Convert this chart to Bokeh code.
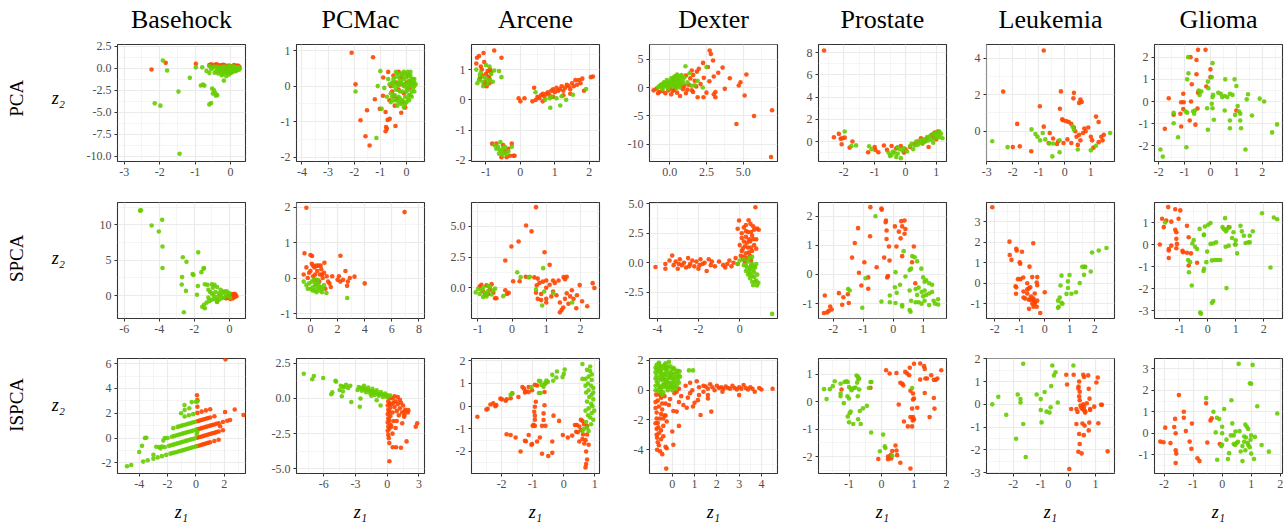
import math
from bokeh.plotting import figure
from bokeh.models import Range1d, FixedTicker, Label, ColumnDataSource
from bokeh.layouts import row, column
from bokeh.embed import file_html
from bokeh.resources import INLINE

DATASETS = ["Basehock", "PCMac", "Arcene", "Dexter", "Prostate", "Leukemia", "Glioma"]
METHODS = ["PCA", "SPCA", "ISPCA"]
RED = "#FF4500"
GREEN = "#66CD00"

# ---------------- PCA row ----------------
PCA_BASEHOCK_R = [(-2.23,-0.15),(-1.83,0.61),(-0.98,0.5),(-0.55,0.45),(-0.45,0.4),(-0.35,0.35),(-0.25,0.35),(-0.15,0.3),(-0.05,0.3),(0.05,0.25),(0.15,0.25),(0.22,0.15),(0.25,0.05),(0.2,0.3),(-0.6,0.35),(-0.4,0.45),(0.1,0.35),(-0.2,0.4),(0.24,0.2),(-0.12,0.15),(0.18,0.0)]
PCA_BASEHOCK_G = [(-1.91,0.88),(-1.79,-0.26),(-2.14,-3.98),(-1.98,-4.24),(-1.47,-2.65),(-1.44,-9.69),(-1.15,-1.09),(-0.98,0.1),(-0.8,0.1),(-0.84,-1.95),(-0.78,-1.85),(-0.74,-1.97),(-0.52,-2.3),(-0.47,-2.5),(-0.43,-2.8),(-0.38,-3.05),(-0.5,-2.85),(-0.42,-3.1),(-0.6,-4.1),(-0.55,-3.95),(-0.19,-1.4),(-0.45,0.2),(-0.4,-0.3),(-0.35,-0.6),(-0.3,0.1),(-0.28,-0.4),(-0.25,-0.8),(-0.2,0.2),(-0.18,-0.2),(-0.15,-0.5),(-0.1,0.0),(-0.08,-0.35),(-0.05,-0.7),(0.0,0.15),(0.02,-0.2),(0.05,-0.45),(0.08,0.05),(0.1,-0.15),(0.12,-0.3),(0.15,0.1),(0.18,-0.05),(0.2,0.05),(0.22,-0.1),(0.25,0.0),(-0.55,-0.1),(-0.6,0.25),(-0.12,-0.9),(-0.35,-0.05),(0.0,-0.55),(-0.22,-0.65),(0.1,0.2),(-0.05,0.25),(0.15,-0.2),(-0.68,-0.3),(-0.6,-0.55),(-0.3,-0.2),(-0.25,0.0),(-0.15,-0.1),(-0.05,-0.1),(0.05,0.0),(0.1,0.1),(0.2,-0.2),(0.0,-0.3),(-0.1,-0.45),(-0.2,-0.3),(0.15,-0.35),(0.25,-0.15),(-0.45,-0.5),(-0.5,0.05),(-0.38,0.15),(0.05,0.2),(-0.15,0.15),(0.22,0.1)]
PCA_PCMAC_R = [(-2.1,0.94),(-1.28,0.81),(-1.95,0.05),(-1.21,-0.37),(-1.51,-0.68),(-1.76,-0.96),(-1.57,-1.41),(-1.41,-1.67),(-1.02,-0.64),(-0.8,-0.73),(-0.78,-1.15),(-0.75,-1.2),(-0.64,-0.92),(-0.8,-1.27),(-0.42,-1.12),(-0.89,0.24),(-0.7,0.4),(-0.9,-0.27),(-0.72,-0.95),(-0.5,0.3),(-0.4,0.1),(-0.3,-0.1),(-0.2,0.25),(-0.1,-0.2),(0.0,0.1),(-0.35,-0.35),(-0.15,-0.45),(0.1,-0.05),(-0.55,-0.15),(-0.25,0.05),(0.05,0.3),(-0.45,-0.55),(-0.6,0.0),(-0.05,-0.6),(-0.65,-0.4),(-0.3,0.4),(0.15,0.15),(-0.2,-0.75),(-0.48,-0.28)]
PCA_PCMAC_G = [(-1.95,-0.15),(-1.15,-1.46),(-0.95,-0.64),(-1.0,0.42),(-1.1,0.0),(-0.85,-0.05),(-0.7,0.2),(-0.6,-0.2),(-0.55,0.1),(-0.5,-0.4),(-0.45,0.25),(-0.4,-0.1),(-0.35,0.35),(-0.3,-0.3),(-0.25,0.15),(-0.2,-0.5),(-0.15,0.3),(-0.1,0.0),(-0.05,-0.3),(0.0,0.25),(0.05,-0.1),(0.1,0.15),(0.15,-0.25),(0.2,0.05),(0.25,-0.05),(0.3,0.1),(0.3,-0.15),(-0.6,-0.45),(-0.75,-0.3),(-0.35,-0.55),(-0.1,0.4),(0.0,-0.45),(-0.25,-0.15),(0.15,0.3),(-0.5,0.0),(-0.3,0.05),(-0.15,-0.15),(0.05,0.1),(0.2,-0.3),(-0.4,0.4),(-0.65,0.05),(-0.1,-0.6),(0.1,-0.4),(-0.45,-0.25),(0.25,0.2),(-0.2,0.35),(-0.05,0.05),(0.1,0.0),(0.2,0.2),(0.25,0.1),(0.3,0.0),(0.2,-0.15),(0.1,-0.25),(0.0,-0.15),(-0.1,0.2),(-0.2,0.1),(-0.3,0.25),(-0.35,0.0),(-0.25,-0.35),(-0.15,-0.4),(-0.05,-0.5),(0.05,-0.35),(0.15,0.4),(0.05,0.4),(-0.05,0.35),(-0.45,0.1),(-0.55,-0.3),(-0.5,0.2),(-0.4,-0.4),(-0.3,-0.45),(0.3,0.2),(0.35,0.05),(0.1,0.3),(-0.15,0.05),(0.0,-0.05),(0.15,0.05)]
PCA_ARCENE_R = [(-0.76,1.63),(-1.07,1.55),(-1.26,1.39),(-1.2,1.45),(-0.55,1.39),(-1.28,1.2),(-1.15,1.1),(-1.05,1.25),(-0.95,0.95),(-1.0,0.85),(-1.1,0.8),(-0.92,0.75),(-0.85,0.9),(-1.18,0.7),(-1.02,0.6),(-0.9,0.55),(-0.98,0.45),(-1.05,0.5),(-0.88,1.0),(-1.12,1.0),(-0.9,0.7),(-0.82,-1.45),(-0.7,-1.45),(-0.5,-1.5),(-0.45,-1.7),(-0.4,-1.9),(-0.3,-1.85),(-0.2,-1.85),(-0.17,-1.85),(-0.25,-1.45),(-0.55,-1.9),(-0.35,-1.62),(-0.05,0.05),(0.0,-0.05),(0.12,0.05),(0.35,-0.05),(0.45,0.0),(0.5,0.1),(0.55,0.05),(0.6,0.15),(0.65,0.2),(0.7,0.1),(0.75,0.2),(0.8,0.25),(0.85,0.15),(0.9,0.3),(0.95,0.35),(1.0,0.25),(1.05,0.4),(1.1,0.3),(1.15,0.35),(1.2,0.45),(1.25,0.3),(1.3,0.4),(1.35,0.5),(1.4,0.45),(1.45,0.35),(1.5,0.55),(1.55,0.45),(1.6,0.65),(1.65,0.5),(1.7,0.65),(1.75,0.55),(1.8,0.7),(1.85,0.3),(2.05,0.75),(2.11,0.77),(1.25,0.15),(0.95,0.1),(0.4,0.4),(0.65,-0.05),(1.45,0.2)]
PCA_ARCENE_G = [(-1.25,0.55),(-1.2,0.65),(-1.1,0.6),(-1.15,0.9),(-1.05,0.75),(-0.98,0.68),(-0.9,1.1),(-0.85,0.85),(-0.8,0.6),(-0.76,0.97),(-0.62,0.95),(-0.55,0.75),(-1.28,1.0),(-1.0,1.15),(-1.18,0.82),(-0.95,0.52),(-0.88,0.65),(-1.08,0.45),(-0.75,-1.5),(-0.65,-1.55),(-0.6,-1.65),(-0.55,-1.7),(-0.5,-1.6),(-0.45,-1.75),(-0.4,-1.8),(-0.58,-1.4),(-0.7,-1.62),(-0.35,-1.7),(-0.52,-1.82),(-0.45,-1.55),(-0.25,-1.55),(-0.62,-1.78),(0.44,0.25),(0.87,-0.26),(1.16,-0.19),(1.33,0.0),(1.53,0.17),(1.91,0.36),(0.72,0.0),(0.9,0.1),(1.05,0.05),(0.85,0.05),(1.2,0.12)]
PCA_DEXTER_R = [(-1.1,-0.5),(-0.9,-0.2),(-0.7,-0.8),(-0.5,-0.6),(-0.3,-1.0),(-0.1,-0.5),(0.1,-1.2),(0.3,-0.4),(0.5,-0.9),(0.7,-1.5),(0.9,-0.3),(1.1,-1.0),(1.3,0.5),(1.5,-0.5),(1.7,1.2),(1.9,-1.7),(1.1,2.1),(0.8,0.2),(1.4,1.6),(1.6,2.2),(0.4,0.1),(-0.8,-1.0),(0.0,-0.1),(1.2,-0.4),(0.6,0.5),(1.0,0.3),(1.8,0.2),(0.2,-0.6),(1.59,-0.8),(2.1,0.6),(2.72,6.5),(2.8,5.9),(2.95,4.74),(2.27,4.33),(2.6,3.6),(1.98,3.28),(2.32,1.7),(3.0,1.93),(4.09,1.64),(5.22,2.28),(4.82,0.93),(4.7,0.35),(3.75,-0.23),(5.1,-1.4),(4.54,-6.4),(5.74,-5.0),(6.97,-4.0),(6.9,-12.2),(3.11,-0.8),(3.11,-1.7),(3.0,-1.2),(2.3,-1.7),(2.5,-0.9),(1.85,2.8),(1.5,3.0),(2.7,1.1),(3.3,2.6),(3.6,3.5)]
PCA_DEXTER_G = [(-0.8,0.0),(-0.6,0.5),(-0.5,-0.3),(-0.4,0.9),(-0.3,0.2),(-0.2,1.3),(-0.1,-0.2),(0.0,0.6),(0.1,1.6),(0.2,0.2),(0.3,1.0),(0.4,2.0),(0.5,0.4),(0.6,1.4),(0.7,0.0),(0.8,2.2),(0.9,0.8),(1.0,1.8),(-0.7,0.3),(-0.3,0.8),(0.2,1.2),(0.6,0.8),(1.07,3.75),(0.8,1.9),(0.5,2.3),(0.3,1.9),(-0.15,0.4),(0.45,-0.1),(1.2,0.9),(1.5,0.3),(1.9,1.2),(2.5,3.6),(2.25,0.0),(1.7,0.4),(1.35,2.5),(-0.5,0.6),(-0.6,0.2),(-0.4,0.4),(-0.2,0.6),(0.0,1.0),(0.2,0.8),(0.4,1.3),(0.6,1.8),(0.3,0.5),(-0.1,0.9),(0.1,0.4),(0.5,1.0),(0.7,1.2),(-0.5,0.1),(0.0,0.3),(0.4,1.6),(0.9,1.4),(0.2,1.6),(-0.3,0.5),(0.8,0.6),(0.6,2.0)]
PCA_PROSTATE_R = [(-2.64,8.2),(-2.32,0.39),(-2.16,0.69),(-2.1,0.25),(-2.05,0.3),(-1.97,0.35),(-2.07,-0.25),(-1.81,-0.55),(-1.72,0.0),(-1.21,-0.96),(-1.0,-0.5),(-0.98,-0.75),(-0.88,-0.96),(-0.7,-0.36),(-0.6,-0.75),(-0.45,-0.4),(-0.3,-0.6),(-0.15,-0.4),(-0.05,-1.0),(0.0,-0.7),(0.15,-0.5),(0.3,-0.2),(0.4,0.0),(0.5,0.3),(0.55,-0.15),(0.65,0.1),(0.7,0.3),(0.75,-0.5),(0.85,0.6),(0.95,0.8),(1.05,0.9),(0.6,0.0),(0.9,0.4),(1.0,0.2)]
PCA_PROSTATE_G = [(-1.97,0.9),(-1.75,-0.4),(-1.6,-0.35),(-1.18,-0.42),(-1.1,-0.7),(-0.55,-1.0),(-0.5,-1.3),(-0.45,-1.2),(-0.4,-0.9),(-0.35,-1.0),(-0.3,-1.4),(-0.25,-1.1),(-0.2,-0.7),(-0.15,-1.5),(-0.1,-0.8),(-0.05,-0.6),(0.05,-0.9),(0.15,-0.4),(0.2,-0.2),(0.3,-0.35),(0.35,0.0),(0.4,-0.3),(0.45,-0.1),(0.5,0.1),(0.55,-0.2),(0.6,0.2),(0.65,0.0),(0.7,0.4),(0.75,0.1),(0.8,0.5),(0.85,0.2),(0.9,0.7),(0.95,0.5),(1.0,0.8),(1.05,0.6),(1.1,0.9),(1.15,0.7),(1.1,0.4),(1.2,0.3),(0.9,-0.1),(-0.25,-0.5),(0.25,-0.7),(1.0,0.35)]
PCA_LEUKEMIA_R = [(-0.81,4.42),(-2.37,2.17),(-1.83,0.4),(-2.0,-0.87),(-1.73,-0.83),(-1.29,-1.1),(-0.96,1.37),(-0.81,0.25),(-0.58,-0.1),(-0.19,1.23),(-0.1,0.65),(-0.07,0.6),(-0.15,2.18),(0.35,2.1),(0.33,1.8),(0.6,1.74),(0.65,1.6),(0.55,1.55),(-0.3,-0.7),(-0.25,-0.55),(-0.05,-0.65),(0.05,0.55),(0.15,0.5),(0.25,0.4),(0.35,0.2),(0.4,0.0),(0.45,-0.3),(0.55,-0.2),(0.6,-0.5),(0.7,-0.1),(0.8,0.0),(0.9,0.2),(1.0,-0.3),(1.05,-0.5),(1.1,-0.9),(1.2,0.8),(1.3,0.5),(1.4,-0.3),(1.5,-0.2),(1.3,-0.6),(0.25,-0.65),(0.5,-0.75),(-0.45,-0.4),(0.1,-0.45),(0.75,0.15),(1.45,-0.5),(-0.62,-0.65)]
PCA_LEUKEMIA_G = [(-2.79,-0.55),(-2.2,-0.87),(-1.28,0.1),(-1.13,-0.15),(-1.05,-0.3),(-0.95,-0.5),(-0.75,-0.45),(-0.6,-0.67),(-0.45,-0.67),(-0.48,-1.38),(-0.2,-1.15),(-0.2,-0.5),(0.35,0.1),(0.5,-1.0),(1.0,-1.05),(1.2,-0.8),(1.74,-0.1),(-0.85,-0.1),(0.3,0.25)]
PCA_GLIOMA_R = [(-1.76,-1.23),(-1.61,0.15),(-1.42,-0.59),(-1.16,-0.55),(-1.13,-1.12),(-1.13,-0.03),(-1.03,-0.03),(-1.05,0.35),(-1.05,-0.34),(-0.77,2.0),(-0.8,-0.85),(-0.75,0.0),(-0.72,0.78),(-0.58,-1.04),(-0.54,1.87),(-0.48,2.33),(-0.48,0.4),(-0.54,1.23),(-0.5,-0.31),(-0.19,2.33),(-0.16,0.68),(0.0,1.1),(0.0,1.45),(1.0,-0.4),(-0.45,0.45)]
PCA_GLIOMA_G = [(-1.93,-2.16),(-1.84,-2.48),(-1.42,-0.51),(-1.42,-0.98),(-1.25,-1.61),(-0.93,-2.06),(-0.9,-0.5),(-0.96,-0.45),(-0.86,2.0),(-0.9,1.0),(-0.85,1.27),(-0.67,-0.44),(-0.63,-0.55),(-0.6,-0.4),(-0.45,0.5),(-0.42,0.3),(-0.35,0.45),(-0.1,0.9),(-0.08,0.6),(-0.13,-0.3),(-0.1,-1.27),(0.08,1.73),(0.05,1.1),(0.1,0.3),(0.08,0.2),(0.05,-0.1),(0.08,-0.3),(0.13,-0.82),(0.4,0.35),(0.45,0.2),(0.55,0.25),(0.65,0.2),(0.75,0.35),(0.85,0.3),(0.57,1.0),(0.93,1.0),(0.55,-0.4),(0.75,-0.85),(0.75,-1.2),(0.95,-0.6),(1.1,-0.45),(1.05,-0.2),(1.15,-0.85),(1.18,-1.2),(1.35,-2.16),(1.4,0.1),(1.45,0.33),(1.6,-0.63),(1.9,0.13),(2.07,0.0),(2.38,-1.39),(2.57,-1.03),(1.0,0.7),(1.15,-0.55),(0.3,0.4)]

# ---------------- SPCA row ----------------
SPCA_BASEHOCK_R = [(0.0,0.0),(0.1,-0.2),(0.15,0.2),(0.2,-0.4),(0.25,0.0),(0.3,-0.2),(0.35,0.1),(0.4,-0.1),(0.05,-0.5),(-0.1,-0.3),(-0.2,-0.4),(-0.7,-0.85),(0.3,0.25),(0.2,0.1)]
SPCA_BASEHOCK_G = [(-5.1,12.0),(-5.05,12.05),(-4.44,9.9),(-3.84,10.7),(-4.03,9.05),(-3.82,6.93),(-3.82,3.9),(-2.66,5.4),(-2.45,4.76),(-1.78,6.1),(-2.7,2.6),(-2.72,1.55),(-2.48,0.65),(-2.6,-2.37),(-2.1,3.05),(-2.05,2.9),(-1.6,3.3),(-1.45,3.9),(-1.48,3.8),(-1.8,1.35),(-1.85,0.1),(-1.4,1.6),(-1.25,1.5),(-1.0,1.6),(-0.85,1.5),(-0.7,1.2),(-1.55,-1.6),(-1.45,-1.3),(-1.3,-1.0),(-1.15,-0.8),(-1.0,-0.6),(-0.85,-0.5),(-0.7,-0.9),(-1.4,-1.8),(-1.2,-0.3),(-1.0,0.3),(-0.9,0.0),(-0.8,0.5),(-0.7,-0.2),(-0.6,0.3),(-0.5,0.0),(-0.4,0.4),(-0.3,-0.3),(-0.2,0.2),(-0.1,-0.1),(0.0,0.3),(-0.5,0.8),(-0.3,0.6),(-0.6,-0.6),(-1.1,0.5),(-0.95,1.1),(-0.45,-0.4),(0.05,-0.3),(-0.15,0.6),(-1.2,0.8)]
SPCA_PCMAC_R = [(-0.3,1.98),(6.94,1.86),(-0.44,0.7),(0.0,0.65),(0.12,0.62),(2.21,0.63),(1.03,0.43),(2.58,0.2),(3.25,0.04),(4.0,-0.15),(2.7,-0.22),(2.76,-0.1),(2.0,-0.05),(2.1,0.05),(2.2,-0.1),(1.3,-0.1),(1.5,-0.25),(1.4,-0.15),(1.1,-0.3),(2.4,-0.05),(2.9,0.0),(-0.5,0.1),(-0.3,0.3),(-0.2,0.0),(0.0,0.2),(0.1,0.4),(0.2,0.05),(0.3,0.3),(0.4,-0.05),(0.5,0.2),(0.6,0.35),(0.7,0.1),(0.8,0.25),(0.9,0.0),(1.0,0.15),(0.2,0.35),(0.45,0.35),(0.75,0.35),(-0.1,0.15),(0.35,0.1),(0.65,-0.1),(0.85,0.1),(1.2,0.05),(1.6,0.05)]
SPCA_PCMAC_G = [(2.71,-0.56),(1.18,-0.42),(-0.5,-0.1),(-0.3,-0.2),(-0.1,-0.15),(0.0,-0.3),(0.1,-0.1),(0.2,-0.25),(0.3,-0.35),(0.4,-0.2),(0.5,-0.3),(0.6,-0.15),(0.7,-0.35),(0.8,-0.25),(0.9,-0.3),(1.0,-0.2),(0.15,-0.35),(0.45,-0.4),(0.65,-0.25),(0.25,-0.05),(-0.2,-0.3),(0.55,-0.05),(0.85,-0.4),(0.35,-0.15)]
SPCA_ARCENE_R = [(0.7,6.57),(0.41,5.08),(0.57,4.6),(0.19,3.77),(-0.02,3.37),(0.95,2.9),(-0.2,2.23),(1.1,1.87),(0.03,0.54),(0.22,0.54),(0.4,0.9),(0.65,0.85),(0.75,0.75),(0.8,0.4),(0.72,0.2),(0.7,-0.4),(0.75,-0.9),(0.9,0.5),(0.85,-1.0),(1.0,0.6),(1.0,0.0),(1.51,0.87),(1.55,0.7),(1.6,0.9),(1.36,0.6),(1.2,0.6),(1.25,0.4),(1.98,0.22),(2.36,0.38),(2.41,-0.02),(2.2,-1.5),(1.4,-2.0),(1.5,-1.6),(1.45,-1.8),(1.88,-1.66),(1.6,-0.45),(1.7,-0.7),(1.8,-0.9),(1.55,-0.9),(1.2,-0.3),(1.15,-0.7),(1.3,-0.6),(1.0,-0.9),(1.0,-1.2),(0.85,-0.5),(1.4,-1.2),(1.65,-1.3),(1.9,-0.6),(2.05,-1.1),(1.75,-0.2),(1.1,0.25),(-0.95,0.1),(-0.85,-0.3),(-0.75,0.2),(-0.7,-0.5),(-0.65,-0.15),(-0.6,0.3),(-0.8,-0.6),(-0.55,-0.4),(-0.5,-0.85),(-0.2,-0.2),(-0.15,-0.5),(-0.1,-0.4),(-0.46,-0.85),(-0.9,0.25)]
SPCA_ARCENE_G = [(0.15,1.27),(0.25,0.87),(0.91,1.6),(0.49,0.85),(0.52,0.9),(0.88,-1.44),(1.76,-1.2),(0.94,-0.3),(0.7,-0.15),(1.2,-0.4),(-0.26,-0.68),(-1.07,-0.37),(-1.0,-0.1),(-0.95,-0.5),(-0.9,-0.2),(-0.85,0.0),(-0.8,-0.4),(-0.75,-0.7),(-0.7,-0.25),(-0.65,0.1),(-0.6,-0.55),(-0.55,-0.2),(-0.85,-0.75),(-0.7,0.15),(-0.5,-0.05),(-0.75,-0.5)]
SPCA_DEXTER_R = [(-4.08,-0.36),(-3.6,-0.1),(-3.6,-0.5),(-3.27,0.62),(-3.2,-0.2),(-3.1,0.1),(-3.0,-0.5),(-2.9,0.3),(-2.8,-0.2),(-2.7,0.0),(-2.6,-0.4),(-2.5,0.4),(-2.4,-0.1),(-2.3,0.2),(-2.2,-0.3),(-2.1,0.1),(-2.0,-0.5),(-1.9,0.3),(-1.8,-0.1),(-1.7,0.0),(-1.6,-0.7),(-1.5,0.3),(-1.4,-0.2),(-1.2,-0.3),(-1.0,0.1),(-0.8,-0.2),(-0.6,-0.1),(-0.5,0.2),(-0.4,-0.3),(-0.3,0.0),(-0.2,0.4),(-0.1,-0.1),(-3.4,0.2),(-2.95,-0.1),(-2.45,-0.3),(-1.95,-0.2),(-1.35,0.1),(-0.7,-0.4),(0.76,4.71),(-0.03,3.58),(-0.1,2.88),(0.43,3.6),(0.52,3.3),(0.84,2.9),(0.92,2.8),(0.1,2.5),(0.2,3.0),(0.3,2.2),(0.4,2.6),(0.5,1.8),(0.6,2.3),(0.7,1.5),(0.8,2.0),(0.0,1.5),(0.1,1.0),(0.2,1.8),(0.3,0.8),(0.4,1.3),(0.5,0.6),(0.6,1.0),(0.7,2.8),(0.3,3.2),(0.15,0.3),(0.05,0.6),(0.25,0.1),(0.35,0.4),(0.55,0.2),(0.45,2.0),(0.65,3.1),(0.1,2.1),(0.8,1.2),(0.2,0.5),(0.25,1.4),(0.35,1.7),(0.55,1.3),(0.65,2.0),(0.15,1.2),(0.45,0.9),(0.3,2.7),(0.55,2.6)]
SPCA_DEXTER_G = [(1.57,-4.33),(0.84,-1.92),(0.2,0.3),(0.3,-0.2),(0.4,0.1),(0.5,-0.5),(0.6,-0.1),(0.7,-0.8),(0.4,-1.0),(0.5,-1.3),(0.6,-1.6),(0.7,-1.2),(0.8,-1.5),(0.3,-0.7),(0.45,0.4),(0.55,-0.3),(0.65,-0.6),(0.75,-0.4),(0.85,-1.0),(0.9,-1.7),(0.35,-0.4),(0.5,-0.9),(0.65,-1.9),(0.2,-0.2),(0.0,0.2),(-0.1,-0.1),(0.6,0.5),(0.8,-0.1),(0.45,-0.7),(0.6,-1.1),(0.75,-1.6),(0.55,-0.2),(0.7,-0.3)]
SPCA_PROSTATE_R = [(-0.76,2.31),(-0.39,2.26),(-0.38,2.22),(-1.17,1.59),(-0.24,1.85),(-0.25,1.79),(0.3,1.65),(0.19,1.47),(0.38,1.85),(0.27,1.83),(0.06,1.65),(-0.22,1.51),(0.41,1.56),(-0.77,1.31),(-1.28,1.08),(-0.22,1.22),(0.25,1.24),(-0.14,0.96),(0.11,0.96),(0.69,0.96),(-1.37,0.58),(-0.3,0.58),(0.3,0.63),(-0.12,0.48),(0.63,0.42),(-0.96,0.42),(-0.55,0.25),(-1.14,0.06),(-0.17,-0.05),(-0.83,-0.1),(0.74,-0.3),(-1.06,-0.38),(-0.83,-0.49),(-2.28,-0.72),(-1.81,-0.64),(-1.66,-0.78),(-1.51,-0.68),(-1.48,-0.98),(-1.7,-1.04),(-2.1,-1.1),(-2.15,-1.25),(-2.2,-1.3),(-2.05,-1.2),(-2.31,-1.32),(-0.2,-0.1),(0.38,1.4)]
SPCA_PROSTATE_G = [(-0.59,2.0),(0.35,0.8),(0.64,0.63),(0.72,0.59),(0.8,0.45),(0.6,0.2),(0.55,0.15),(0.08,0.08),(0.41,-0.07),(0.94,0.2),(1.0,-0.1),(1.05,-0.25),(1.1,-0.2),(1.2,-0.3),(1.3,-0.35),(-1.5,-0.5),(-1.45,-0.55),(-0.92,-0.13),(-1.03,-1.14),(-0.39,-0.93),(-0.11,-0.72),(-0.11,-0.95),(0.06,-0.44),(0.12,-0.63),(0.23,-0.35),(0.08,-0.98),(0.3,-1.1),(0.3,-1.05),(0.55,-1.22),(0.58,-1.28),(0.55,-0.55),(0.75,-0.5),(0.85,-0.45),(0.8,-0.7),(0.95,-0.6),(1.0,-0.75),(0.75,-0.95),(0.85,-0.95),(0.95,-1.0),(1.05,-0.9),(1.1,-0.7),(1.2,-0.65),(1.3,-0.6),(1.35,-0.9),(1.4,-1.0),(1.5,-0.85),(1.5,-1.03),(1.2,-1.05),(1.05,-0.55),(0.6,-0.9)]
SPCA_LEUKEMIA_R = [(-2.1,3.71),(-1.41,2.03),(-1.14,1.68),(-1.12,1.6),(-1.4,1.38),(-1.33,1.14),(-1.0,1.02),(-0.98,0.95),(-0.91,1.54),(-0.46,1.95),(-0.61,0.81),(-1.07,0.2),(-0.97,0.2),(-1.17,-0.15),(-1.14,-0.2),(-1.15,-0.51),(-0.86,0.28),(-0.5,0.3),(-0.3,0.3),(-0.7,0.0),(-0.63,-0.25),(-0.58,-0.2),(-0.85,-0.4),(-0.7,-0.5),(-0.55,-0.65),(-0.5,-0.75),(-0.85,-0.7),(-0.78,-0.75),(-0.63,-0.8),(-0.58,-0.8),(-0.45,-0.75),(-0.38,-0.9),(-0.3,-0.85),(-0.32,-1.15),(-0.45,-1.15),(-0.5,-1.0),(-0.4,-1.0),(-0.3,-0.1),(-0.32,0.04),(-0.45,-0.84),(-0.63,-1.25),(-0.18,-1.45),(0.0,-0.44),(-0.7,-0.3),(-0.4,-0.5)]
SPCA_LEUKEMIA_G = [(0.67,0.37),(0.99,0.4),(0.93,0.09),(0.93,-0.23),(0.63,-0.11),(1.4,0.01),(1.07,-0.51),(1.25,-0.44),(0.87,-0.52),(0.6,-0.7),(0.53,-0.85),(0.67,-0.95),(0.71,-1.0),(0.56,-1.15),(0.53,-1.2),(1.5,0.8),(1.57,0.8),(1.62,0.8),(1.6,0.79),(1.57,0.41),(1.84,0.57),(1.89,1.5),(2.16,1.6),(2.47,1.72)]
SPCA_GLIOMA_R = [(-1.71,0.0),(-1.63,1.17),(-1.57,0.79),(-1.48,1.09),(-1.41,1.7),(-1.3,1.04),(-1.39,-0.2),(-1.39,-0.27),(-1.3,-0.05),(-1.39,-0.61),(-1.12,0.56),(-1.12,0.26),(-1.1,0.03),(-1.12,-0.17),(-1.16,0.67),(-1.04,1.17),(-0.98,1.55),(-1.16,1.6),(-0.74,0.85),(-0.68,0.33),(-0.9,-0.28),(-0.88,-0.35),(-0.74,-0.37),(-0.68,-0.95),(-0.38,-0.83),(0.75,0.79),(-0.6,-0.4)]
SPCA_GLIOMA_G = [(-1.52,1.0),(-0.7,-0.7),(-0.63,-0.8),(-0.67,-1.26),(-0.57,-1.86),(-0.5,0.2),(-0.45,-0.1),(-0.38,-0.2),(-0.55,0.05),(-0.29,0.71),(-0.14,0.43),(-0.13,0.45),(-0.1,0.82),(-0.02,-0.32),(0.02,0.9),(0.1,0.98),(-0.15,-1.2),(-0.13,-1.1),(0.1,0.03),(0.2,0.05),(0.3,0.1),(0.15,-0.72),(0.35,-0.7),(0.45,-0.7),(0.64,-0.1),(0.75,-0.05),(0.53,0.79),(0.58,0.7),(0.65,0.6),(0.62,1.2),(0.68,0.68),(0.78,0.78),(0.92,0.56),(0.97,0.0),(1.0,0.0),(1.0,0.19),(0.87,0.3),(1.05,-0.4),(1.17,0.85),(1.22,0.6),(1.29,0.4),(1.35,0.07),(1.45,0.1),(1.5,0.1),(1.5,0.4),(1.61,0.6),(1.94,1.42),(2.36,1.23),(2.48,1.15),(2.24,-1.04),(0.26,-0.7),(0.67,-1.98),(0.15,-2.65),(0.2,-2.57),(-0.27,-3.09),(-0.24,-3.14),(-0.05,-0.8)]

# ---------------- ISPCA row ----------------
ISPCA_BASEHOCK_R = [(0.1,-0.64),(0.4,-0.54),(0.7,-0.44),(1.0,-0.34),(1.3,-0.24),(1.6,-0.14),(0.1,0.03),(0.4,0.13),(0.7,0.23),(1.0,0.33),(1.3,0.43),(1.6,0.53),(1.9,0.63),(0.1,0.7),(0.4,0.8),(0.7,0.9),(1.0,1.0),(1.3,1.1),(1.6,1.2),(1.9,1.3),(2.2,1.4),(2.4,1.46),(0.1,1.36),(0.4,1.46),(0.7,1.56),(1.0,1.66),(1.3,1.76),(0.1,2.03),(0.4,2.13),(0.7,2.23),(1.0,2.33),(2.08,6.35),(2.73,2.31),(2.05,2.1),(3.35,1.86),(0.07,3.45),(0.1,3.06),(0.1,2.53),(1.7,0.95),(0.25,-0.6),(0.55,0.18),(0.85,0.95),(1.15,0.38),(0.25,1.41),(0.55,1.51),(0.85,1.61),(0.25,0.75),(0.55,0.85),(1.15,1.05),(1.45,1.15),(0.25,0.08),(0.85,0.28),(1.45,0.48),(0.55,-0.49),(0.85,-0.39)]
ISPCA_BASEHOCK_G = [(-4.86,-2.27),(-4.56,-2.17),(-3.72,-1.9),(-3.4,-1.79),(-3.0,-1.66),(-2.7,-1.56),(-2.4,-1.46),(-2.1,-1.36),(-1.8,-1.26),(-1.5,-1.17),(-1.2,-1.07),(-0.9,-0.97),(-0.6,-0.87),(-0.3,-0.77),(0.0,-0.67),(-4.0,-1.12),(-3.8,-0.63),(-3.6,0.0),(-3.5,0.02),(-3.0,-1.35),(-2.8,-0.7),(-2.6,-0.72),(-2.4,-0.68),(-2.3,-0.2),(-2.2,0.0),(-2.5,-0.83),(-2.2,-0.73),(-1.9,-0.63),(-1.6,-0.53),(-1.3,-0.43),(-1.0,-0.33),(-0.7,-0.23),(-0.4,-0.13),(-0.1,-0.03),(-2.0,0.01),(-1.7,0.11),(-1.4,0.21),(-1.1,0.31),(-0.8,0.41),(-0.5,0.5),(-0.2,0.6),(0.0,0.67),(-1.6,0.8),(-1.3,0.9),(-1.0,1.0),(-0.7,1.1),(-0.4,1.2),(-0.1,1.3),(-0.8,1.74),(-0.5,1.84),(-0.2,1.93),(-0.81,2.66),(-0.8,2.26),(-0.47,2.4),(-1.05,2.0),(0.0,2.93),(0.1,2.95),(0.05,0.3),(0.1,0.5),(-0.3,2.9),(-1.65,-1.21),(-1.35,-1.12),(-1.05,-1.02),(-0.75,-0.92),(-0.45,-0.82),(-0.15,-0.72),(-1.75,-0.58),(-1.45,-0.48),(-1.15,-0.38),(-0.85,-0.28),(-0.55,-0.18),(-0.25,-0.08),(-1.55,0.16),(-1.25,0.26),(-0.95,0.36),(-0.65,0.46),(-0.35,0.55),(-1.15,0.95),(-0.85,1.05),(-0.55,1.15),(-0.25,1.25)]
ISPCA_PCMAC_R = [(0.05,0.1),(0.1,-0.2),(0.05,-0.5),(0.1,-0.8),(0.05,-1.1),(0.1,-1.4),(0.05,-1.7),(0.1,-2.0),(0.05,-2.3),(0.1,-2.6),(0.2,-0.35),(0.2,-0.95),(0.2,-1.55),(0.2,-2.15),(0.15,-2.82),(0.2,-3.17),(0.3,0.05),(0.3,-0.65),(0.3,-1.25),(0.3,-1.85),(0.5,0.0),(0.6,-0.3),(0.7,-0.6),(0.8,-0.2),(0.9,-0.9),(1.0,-0.4),(1.1,-1.2),(1.2,-0.7),(1.3,-0.3),(1.4,-1.0),(1.5,-0.5),(1.6,-1.3),(1.7,-0.8),(0.5,-1.0),(0.6,-1.6),(0.9,-1.6),(0.4,-2.0),(0.8,-2.1),(0.5,-2.5),(1.42,-1.76),(1.63,-0.93),(1.63,-1.17),(2.0,-0.83),(1.95,-1.0),(2.84,-1.76),(2.7,-2.0),(1.83,-3.05),(0.52,-3.47),(0.84,-3.47),(1.3,-3.5),(0.21,-4.46),(1.2,-0.1),(0.4,-0.4),(1.0,0.1),(0.7,0.15)]
ISPCA_PCMAC_G = [(-7.9,1.76),(-6.95,1.6),(-7.1,1.37),(-6.06,1.45),(-4.9,1.25),(-4.85,1.2),(-5.3,0.3),(-5.2,0.43),(-4.4,0.9),(-4.2,0.85),(-4.1,0.8),(-4.5,0.6),(-4.2,0.5),(-3.9,0.97),(-3.5,0.9),(-3.7,0.75),(-4.3,0.16),(-3.4,-0.25),(-2.53,0.0),(-2.6,-0.59),(-1.0,-0.13),(-0.63,-0.5),(-2.7,0.82),(-2.5,0.75),(-2.3,0.72),(-2.1,0.65),(-1.9,0.62),(-1.7,0.55),(-1.5,0.52),(-1.3,0.45),(-1.1,0.42),(-0.9,0.35),(-0.7,0.32),(-0.5,0.28),(-0.3,0.25),(-0.1,0.22),(0.1,0.2),(0.3,0.2),(-2.4,0.55),(-2.0,0.45),(-1.6,0.35),(-1.2,0.25),(-0.8,0.2),(-0.4,0.1),(-2.2,0.9),(-1.8,0.78),(-1.4,0.68),(-1.0,0.58),(-0.6,0.45),(-0.2,0.35),(0.0,0.1),(-1.5,0.2),(-2.8,0.6)]
ISPCA_ARCENE_R = [(-2.78,-0.47),(-2.49,-0.15),(-2.45,-0.12),(-2.36,0.07),(-2.27,0.12),(-2.2,0.0),(-2.17,0.05),(-2.04,0.33),(-1.99,0.3),(-1.87,0.24),(-1.84,0.3),(-1.71,0.35),(-1.66,0.57),(-1.46,0.4),(-1.33,0.84),(-1.28,0.77),(-1.25,0.6),(-1.22,0.65),(-1.13,0.84),(-1.13,0.62),(-0.93,0.94),(-0.86,0.91),(-0.59,1.0),(-0.62,0.62),(-1.02,0.7),(-0.9,0.19),(-0.62,0.04),(-0.93,-0.03),(-0.95,-0.25),(-0.93,-0.42),(-0.65,-0.32),(-0.65,-0.61),(-0.93,-0.6),(-1.0,-0.87),(-0.93,-0.87),(-0.97,-0.82),(-0.7,-0.87),(-0.59,-0.87),(-1.13,-1.27),(-0.33,-0.42),(-0.15,-0.65),(-1.04,-1.7),(-1.02,-1.67),(-0.86,-1.56),(-0.77,-1.38),(-1.25,-1.53),(-1.22,-1.55),(-1.39,-2.0),(-0.7,-2.1),(-0.5,-2.2),(-0.37,-2.06),(-0.37,-1.56),(-1.84,-1.24),(-1.71,-1.27),(-1.55,-1.38),(-0.03,-1.27),(0.13,-1.38),(0.27,-1.3),(0.36,-0.83),(0.42,-0.83),(0.5,-0.9),(0.4,-1.13),(0.45,-1.15),(0.5,-1.56),(0.55,-0.6),(0.6,-0.65),(0.65,-0.8),(0.75,-0.88),(0.55,-1.05),(0.75,-1.25),(0.7,-1.5),(0.8,-1.7),(0.72,-2.0),(0.75,-2.35),(0.72,-2.55),(0.7,-2.7),(0.6,-1.45),(0.62,-1.25),(0.66,-1.65)]
ISPCA_ARCENE_G = [(-1.66,0.55),(-1.71,0.5),(-1.04,0.84),(-0.8,1.12),(-0.75,1.09),(-0.72,0.93),(-0.75,0.58),(-0.8,0.58),(-0.6,1.0),(-0.65,0.85),(-0.51,1.07),(-0.56,1.13),(-0.34,1.12),(-0.24,1.26),(-0.37,1.38),(-0.22,1.53),(-0.04,1.28),(0.0,1.42),(0.03,1.61),(0.6,1.86),(0.75,1.6),(0.85,1.55),(0.9,1.4),(0.8,1.3),(0.7,1.2),(0.9,1.15),(0.78,1.0),(0.88,0.9),(0.95,0.8),(0.8,0.7),(0.72,0.6),(0.9,0.5),(0.82,0.4),(0.95,0.3),(0.75,0.2),(0.88,0.1),(0.92,0.0),(0.8,-0.1),(0.7,-0.2),(0.9,-0.3),(0.78,-0.4),(0.85,-0.5),(0.95,-0.6),(0.72,-0.7),(0.88,-0.8),(0.75,-0.95),(0.65,-1.0),(0.6,-1.1),(0.8,-1.1),(0.95,0.6),(0.7,0.9),(0.85,1.75),(0.6,1.2),(0.98,-0.2)]
ISPCA_DEXTER_R = [(0.0,0.2),(0.3,0.1),(0.6,0.3),(0.9,0.0),(1.1,0.6),(1.2,0.2),(1.4,0.3),(1.6,0.1),(1.7,0.4),(1.8,0.2),(1.9,0.0),(2.0,0.3),(2.1,0.15),(2.2,0.2),(2.3,0.1),(2.4,0.25),(2.5,0.15),(2.6,0.1),(2.7,0.3),(2.8,0.15),(2.9,0.05),(3.0,-0.33),(3.0,0.2),(3.1,0.1),(3.2,0.35),(3.3,0.15),(3.4,0.05),(3.5,0.2),(3.6,0.1),(3.7,-0.1),(3.9,0.15),(4.0,0.05),(4.5,0.1),(2.25,-0.1),(1.5,0.25),(0.8,0.5),(-0.75,-2.22),(-0.7,-3.0),(-0.68,-3.2),(-0.65,-3.5),(-0.6,-3.7),(-0.68,-4.0),(-0.55,-4.1),(-0.45,-4.3),(-0.27,-5.27),(-0.3,-3.8),(-0.25,-3.9),(0.05,-3.67),(-0.72,-0.3),(-0.65,-0.7),(-0.6,-1.1),(-0.7,-1.5),(-0.55,-1.9),(-0.5,-0.5),(-0.45,-1.3),(-0.4,-2.4),(-0.35,-1.7),(-0.3,-0.9),(-0.25,-2.1),(-0.5,-2.7),(-0.62,-2.5),(-0.4,-3.1),(0.0,-2.78),(0.3,-2.4),(-0.3,-1.7),(0.05,-1.4),(0.2,-1.44),(0.5,-1.0),(0.65,-1.18),(0.93,-1.1),(1.0,-0.85),(1.15,-0.67),(1.27,-1.67),(1.6,-0.56),(1.6,-0.33),(1.75,-1.44),(1.2,-0.33),(1.4,-0.1),(-0.1,-0.6),(0.1,-0.2),(0.3,-0.8),(0.4,-0.4),(0.7,-0.5),(0.8,-0.2),(-0.15,-1.0),(0.2,-0.1),(-0.75,-0.8),(-0.75,-1.2),(-0.7,-1.9),(-0.65,-2.2),(-0.6,-2.9),(-0.55,-0.3),(-0.5,-1.6),(-0.45,-0.9),(-0.4,-1.9),(-0.35,-0.4),(-0.7,-2.6),(-0.5,-3.3)]
ISPCA_DEXTER_G = [(-0.75,1.5),(-0.7,1.0),(-0.65,0.5),(-0.6,1.8),(-0.55,1.2),(-0.5,0.7),(-0.45,0.2),(-0.4,1.5),(-0.35,0.9),(-0.3,0.4),(-0.25,1.3),(-0.2,0.0),(-0.15,0.8),(-0.1,1.6),(-0.05,0.3),(0.0,1.1),(0.05,0.6),(0.1,1.4),(0.15,0.1),(0.2,0.9),(0.25,1.3),(0.33,1.27),(0.3,0.5),(-0.75,0.0),(-0.7,0.6),(-0.6,-0.1),(-0.5,1.6),(-0.45,-0.3),(-0.35,1.7),(-0.25,0.6),(-0.15,1.9),(0.0,0.0),(0.1,0.8),(-0.55,0.2),(-0.65,1.3),(-0.3,1.1),(-0.1,0.5),(0.05,1.5),(0.75,1.33),(0.93,1.33),(-0.6,1.84),(-0.2,0.25),(0.35,0.9),(-0.4,-0.15),(0.2,0.3),(-0.75,0.3),(-0.75,0.8),(-0.75,1.2),(-0.7,1.7),(-0.6,0.3),(-0.6,0.8),(-0.6,1.4),(-0.5,0.0),(-0.5,1.0),(-0.5,1.3),(-0.4,0.4),(-0.4,0.7),(-0.4,1.1),(-0.3,0.2),(-0.3,0.7),(-0.3,1.4),(-0.3,1.8),(-0.2,0.5),(-0.2,1.0),(-0.2,1.5),(-0.1,0.2),(-0.1,0.9),(-0.1,1.2),(0.0,0.4),(0.0,0.8),(0.0,1.4),(0.1,0.2),(0.1,1.1),(0.15,0.5),(0.2,1.2),(0.25,0.7),(0.3,1.0),(-0.65,0.0),(-0.55,1.6),(-0.45,0.9),(-0.35,0.4),(-0.25,1.6),(-0.05,1.0),(0.05,0.2),(-0.7,1.4)]
ISPCA_PROSTATE_R = [(-1.23,0.45),(-0.34,0.51),(0.14,1.15),(0.25,1.03),(0.46,1.05),(0.73,1.09),(0.79,1.03),(0.85,0.97),(0.87,1.24),(1.0,1.39),(1.19,1.4),(1.31,1.3),(1.33,1.2),(1.19,0.81),(1.35,0.85),(1.4,0.85),(1.53,0.97),(1.61,0.8),(1.72,0.85),(1.84,1.15),(1.67,0.8),(0.58,0.69),(0.64,0.66),(0.67,0.6),(0.53,-0.1),(0.89,0.4),(0.97,0.3),(1.0,0.12),(0.97,0.08),(1.1,-0.22),(0.94,-0.25),(1.0,-0.65),(0.89,-0.56),(0.97,-0.56),(0.94,-0.9),(0.96,-0.68),(0.69,-0.72),(0.81,-0.9),(1.33,0.32),(1.48,-0.56),(1.61,0.14),(1.63,-0.25),(0.43,-1.6),(0.46,-1.78),(0.33,-1.8),(0.3,-2.07),(0.28,-1.95),(0.2,-2.0),(0.48,-1.95),(-0.1,-2.09),(0.58,-2.23),(0.2,-2.1),(0.89,-2.44)]
ISPCA_PROSTATE_G = [(-1.77,0.46),(-1.69,0.1),(-1.59,0.46),(-1.44,0.75),(-1.5,0.57),(-1.26,0.66),(-1.26,0.3),(-1.26,0.2),(-1.14,0.72),(-1.08,0.75),(-1.04,0.72),(-1.0,0.54),(-0.95,0.48),(-1.05,0.2),(-1.0,0.12),(-1.16,-0.05),(-0.92,0.42),(-0.77,0.96),(-0.73,0.92),(-0.71,0.82),(-0.69,0.85),(-0.75,0.7),(-0.85,0.5),(-0.8,0.52),(-0.73,0.2),(-0.69,0.45),(-0.95,-0.36),(-0.98,-0.42),(-1.04,-0.54),(-1.0,-0.75),(-0.87,-0.81),(-0.64,-0.81),(-0.72,-0.64),(-0.67,-0.34),(-0.57,-0.24),(-0.45,-0.15),(-0.34,0.72),(-0.31,0.72),(-0.39,0.5),(-0.32,-1.12),(0.05,-1.2),(-0.05,-1.81),(0.12,-1.69),(0.1,-1.63),(0.33,-1.97),(0.94,0.5)]
ISPCA_LEUKEMIA_R = [(-0.07,1.3),(0.2,1.3),(0.04,-2.83),(-0.04,0.87),(0.11,-0.2),(0.3,-0.2),(0.34,-0.33),(0.37,0.7),(0.42,0.55),(0.4,0.35),(0.42,0.18),(0.4,1.0),(0.38,0.78),(0.45,-0.05),(0.48,-0.15),(0.52,-0.2),(0.55,0.0),(0.58,-0.1),(0.58,-0.25),(0.62,-0.3),(0.55,1.3),(0.58,1.2),(0.73,1.27),(0.75,0.68),(0.78,0.25),(0.8,-0.2),(0.8,-0.25),(0.62,-0.36),(0.3,-0.86),(0.52,-0.84),(0.4,-1.3),(0.42,-1.74),(0.37,-2.08),(0.49,-2.15),(0.57,-1.35),(0.75,-1.14),(0.6,-0.93),(0.77,-0.8),(1.03,0.96),(1.08,1.18),(1.2,-0.02),(1.23,-0.02),(1.1,-0.83),(1.44,-2.06),(0.95,-0.1),(0.68,0.05)]
ISPCA_LEUKEMIA_G = [(-2.77,0.0),(-2.55,0.33),(-2.26,-0.46),(-1.9,-1.51),(-1.84,0.43),(-1.74,0.23),(-1.74,0.08),(-1.64,-0.86),(-1.64,1.78),(-1.55,-2.31),(-1.15,0.43),(-1.0,0.23),(-1.0,-0.25),(-0.97,-0.79),(-0.86,0.54),(-0.79,-0.32),(-0.68,-0.36),(-0.64,-0.13),(-0.62,0.8),(-0.58,1.7),(-0.52,1.27),(-0.46,1.41),(-0.38,0.08),(0.19,1.7)]
ISPCA_GLIOMA_R = [(-2.13,-0.39),(-2.02,-0.42),(-1.96,0.26),(-1.78,-0.46),(-1.65,0.29),(-1.62,0.67),(-1.49,1.78),(-1.6,0.0),(-1.32,1.0),(-1.32,0.72),(-1.6,-0.8),(-1.58,-0.95),(-1.6,-1.39),(-1.25,0.1),(-1.12,-0.39),(-1.04,0.45),(-1.06,-0.73),(-0.85,-1.17),(-0.78,-1.3),(-0.55,1.4),(-0.4,0.6),(-0.36,0.7),(-0.51,-0.43),(-0.08,-0.5),(-0.04,-0.55)]
ISPCA_GLIOMA_G = [(0.57,3.24),(1.05,3.19),(1.0,2.31),(0.96,2.33),(1.21,1.26),(1.9,0.92),(-0.55,1.64),(0.32,1.54),(-0.3,1.0),(-0.18,0.72),(-0.1,0.66),(0.07,1.13),(0.0,0.3),(0.0,0.0),(0.0,-0.54),(-0.03,-0.6),(-0.22,0.04),(-0.17,-1.24),(0.2,-1.2),(0.24,-0.93),(0.3,-0.1),(0.4,-0.1),(0.35,0.46),(0.46,0.08),(0.4,-0.5),(0.5,-0.45),(0.45,-0.55),(0.55,-0.4),(0.64,-0.85),(0.7,-1.3),(0.8,0.4),(0.85,0.3),(0.9,0.2),(0.76,-0.15),(0.76,-0.4),(0.9,-0.55),(0.95,-0.65),(0.98,-0.3),(1.0,-0.1),(1.0,-0.95),(1.1,-1.2),(0.82,-0.2),(0.88,-0.45),(1.13,-0.17),(1.36,-0.55),(1.61,-0.86),(0.6,0.1),(0.7,-0.6),(0.15,-0.3),(0.8,-0.8)]

# ---------------- axis limits and tick labels ----------------
PCA_LIMITS = {"Basehock": ((-3.19, 0.42), (-10.57, 2.69)), "PCMac": ((-4.21, 0.69), (-2.12, 1.17)),
              "Arcene": ((-1.42, 2.30), (-2.04, 1.83)), "Dexter": ((-1.38, 7.34), (-13.0, 7.56)),
              "Prostate": ((-2.82, 1.33), (-1.8, 8.74)), "Leukemia": ((-3.01, 1.91), (-1.66, 4.75)),
              "Glioma": ((-2.16, 2.78), (-2.7, 2.57))}
SPCA_LIMITS = {"Basehock": ((-6.39, 0.92), (-3.25, 13.15)), "PCMac": ((-1.03, 8.41), (-1.14, 2.13)),
               "Arcene": ((-1.19, 2.56), (-2.5, 6.95)), "Dexter": ((-4.37, 1.83), (-4.72, 5.11)),
               "Prostate": ((-2.49, 1.78), (-1.51, 2.47)), "Leukemia": ((-2.33, 2.79), (-1.72, 3.94)),
               "Glioma": ((-1.9, 2.67), (-3.36, 1.91))}
ISPCA_LIMITS = {"Basehock": ((-5.53, 3.49), (-2.86, 6.42)), "PCMac": ((-8.59, 3.53), (-5.33, 2.84)),
                "Arcene": ((-2.97, 1.15), (-2.97, 2.1)), "Dexter": ((-1.02, 4.72), (-5.6, 2.13)),
                "Prostate": ((-1.94, 2.0), (-2.62, 1.58)), "Leukemia": ((-2.98, 1.69), (-3.03, 2.01)),
                "Glioma": ((-2.33, 2.08), (-1.88, 3.49))}

PCA_XTICKS = {"Basehock": ["-3","-2","-1","0"], "PCMac": ["-4","-3","-2","-1","0"], "Arcene": ["-1","0","1","2"],
              "Dexter": ["0.0","2.5","5.0"], "Prostate": ["-2","-1","0","1"], "Leukemia": ["-3","-2","-1","0","1"],
              "Glioma": ["-2","-1","0","1","2"]}
PCA_YTICKS = {"Basehock": ["-10.0","-7.5","-5.0","-2.5","0.0","2.5"], "PCMac": ["-2","-1","0","1"],
              "Arcene": ["-2","-1","0","1"], "Dexter": ["-10","-5","0","5"], "Prostate": ["0","2","4","6","8"],
              "Leukemia": ["0","2","4"], "Glioma": ["-2","-1","0","1","2"]}
SPCA_XTICKS = {"Basehock": ["-6","-4","-2","0"], "PCMac": ["0","2","4","6","8"], "Arcene": ["-1","0","1","2"],
               "Dexter": ["-4","-2","0"], "Prostate": ["-2","-1","0","1"], "Leukemia": ["-2","-1","0","1","2"],
               "Glioma": ["-1","0","1","2"]}
SPCA_YTICKS = {"Basehock": ["0","5","10"], "PCMac": ["-1","0","1","2"], "Arcene": ["0.0","2.5","5.0"],
               "Dexter": ["-2.5","0.0","2.5","5.0"], "Prostate": ["-1","0","1","2"], "Leukemia": ["-1","0","1","2","3"],
               "Glioma": ["-3","-2","-1","0","1"]}
ISPCA_XTICKS = {"Basehock": ["-4","-2","0","2"], "PCMac": ["-6","-3","0","3"], "Arcene": ["-2","-1","0","1"],
                "Dexter": ["0","1","2","3","4"], "Prostate": ["-1","0","1","2"], "Leukemia": ["-2","-1","0","1"],
                "Glioma": ["-2","-1","0","1","2"]}
ISPCA_YTICKS = {"Basehock": ["-2","0","2","4","6"], "PCMac": ["-5.0","-2.5","0.0","2.5"], "Arcene": ["-2","-1","0","1","2"],
                "Dexter": ["-4","-2","0","2"], "Prostate": ["-2","-1","0","1"], "Leukemia": ["-3","-2","-1","0","1","2"],
                "Glioma": ["-1","0","1","2","3"]}

POINTS = {
    "PCA": {"Basehock": (PCA_BASEHOCK_R, PCA_BASEHOCK_G), "PCMac": (PCA_PCMAC_R, PCA_PCMAC_G),
            "Arcene": (PCA_ARCENE_R, PCA_ARCENE_G), "Dexter": (PCA_DEXTER_R, PCA_DEXTER_G),
            "Prostate": (PCA_PROSTATE_R, PCA_PROSTATE_G), "Leukemia": (PCA_LEUKEMIA_R, PCA_LEUKEMIA_G),
            "Glioma": (PCA_GLIOMA_R, PCA_GLIOMA_G)},
    "SPCA": {"Basehock": (SPCA_BASEHOCK_R, SPCA_BASEHOCK_G), "PCMac": (SPCA_PCMAC_R, SPCA_PCMAC_G),
             "Arcene": (SPCA_ARCENE_R, SPCA_ARCENE_G), "Dexter": (SPCA_DEXTER_R, SPCA_DEXTER_G),
             "Prostate": (SPCA_PROSTATE_R, SPCA_PROSTATE_G), "Leukemia": (SPCA_LEUKEMIA_R, SPCA_LEUKEMIA_G),
             "Glioma": (SPCA_GLIOMA_R, SPCA_GLIOMA_G)},
    "ISPCA": {"Basehock": (ISPCA_BASEHOCK_R, ISPCA_BASEHOCK_G), "PCMac": (ISPCA_PCMAC_R, ISPCA_PCMAC_G),
              "Arcene": (ISPCA_ARCENE_R, ISPCA_ARCENE_G), "Dexter": (ISPCA_DEXTER_R, ISPCA_DEXTER_G),
              "Prostate": (ISPCA_PROSTATE_R, ISPCA_PROSTATE_G), "Leukemia": (ISPCA_LEUKEMIA_R, ISPCA_LEUKEMIA_G),
              "Glioma": (ISPCA_GLIOMA_R, ISPCA_GLIOMA_G)},
}
LIMITS = {"PCA": PCA_LIMITS, "SPCA": SPCA_LIMITS, "ISPCA": ISPCA_LIMITS}
XTICKS = {"PCA": PCA_XTICKS, "SPCA": SPCA_XTICKS, "ISPCA": ISPCA_XTICKS}
YTICKS = {"PCA": PCA_YTICKS, "SPCA": SPCA_YTICKS, "ISPCA": ISPCA_YTICKS}

# ---------------- layout constants ----------------
SERIF = "Liberation Serif"
FRAME_W = 128
LABEL_W = 78
TITLE_H = 34
TITLE_MID = 19
COL_L = [39, 47, 43, 46, 37, 36, 36]
COL_R = [4, 4, 4, 4, 4, 4, 2]
ROW_H = [149, 160, 181]
ROW_T = [10, 19, 15]
ROW_B = [22, 25, 50]
COL_W = [COL_L[i] + FRAME_W + COL_R[i] for i in range(7)]
TOTAL_W = LABEL_W + sum(COL_W)


def minor_ticks(ticks, lo, hi):
    step = ticks[1] - ticks[0]
    cands = [t - step / 2 for t in ticks] + [ticks[-1] + step / 2]
    return [c for c in cands if lo <= c <= hi]


def style_axis(ax, labels, lo, hi):
    vals = [float(s) for s in labels]
    ax.ticker = FixedTicker(ticks=vals, minor_ticks=minor_ticks(vals, lo, hi))
    ax.major_label_overrides = {v: s for v, s in zip(vals, labels)}
    ax.axis_line_color = None
    ax.major_tick_line_color = "#333333"
    ax.major_tick_line_width = 1
    ax.major_tick_out = 3
    ax.major_tick_in = 0
    ax.minor_tick_line_color = None
    ax.major_label_text_font = SERIF
    ax.major_label_text_font_size = "12px"
    ax.major_label_text_color = "#4D4D4D"
    ax.major_label_standoff = 2
    return ax.ticker


def make_panel(ri, ci):
    method = METHODS[ri]
    ds = DATASETS[ci]
    (x0, x1), (y0, y1) = LIMITS[method][ds]
    p = figure(width=COL_W[ci], height=ROW_H[ri],
               x_range=Range1d(x0, x1), y_range=Range1d(y0, y1), title=None,
               output_backend="svg", toolbar_location=None,
               min_border_left=COL_L[ci], min_border_right=COL_R[ci],
               min_border_top=ROW_T[ri], min_border_bottom=ROW_B[ri],
               background_fill_color="white", border_fill_color="white")
    p.outline_line_color = "#333333"
    p.outline_line_width = 1.1
    xt = style_axis(p.xaxis[0], XTICKS[method][ds], x0, x1)
    yt = style_axis(p.yaxis[0], YTICKS[method][ds], y0, y1)
    p.xgrid.ticker = xt
    p.ygrid.ticker = yt
    for g in (p.xgrid[0], p.ygrid[0]):
        g.grid_line_color = "#EBEBEB"
        g.grid_line_width = 1.2
        g.minor_grid_line_color = "#EFEFEF"
        g.minor_grid_line_width = 0.6
    if ri == 2:
        p.xaxis.axis_label = "z\u2081"
        p.xaxis.axis_label_text_font = SERIF
        p.xaxis.axis_label_text_font_style = "italic"
        p.xaxis.axis_label_text_font_size = "18px"
        p.xaxis.axis_label_text_color = "black"
        p.xaxis.axis_label_standoff = 11
    red_pts, green_pts = POINTS[method][ds]
    for pts, col in ((red_pts, RED), (green_pts, GREEN)):
        src = ColumnDataSource(dict(x=[q[0] for q in pts], y=[q[1] for q in pts]))
        p.scatter(x="x", y="y", source=src, size=4.6, fill_color=col, fill_alpha=0.9,
                  line_color=None)
    return p


def blank_fig(w, h):
    f = figure(width=w, height=h, x_range=Range1d(0, w), y_range=Range1d(h, 0),
               output_backend="svg", toolbar_location=None, title=None,
               x_axis_location=None, y_axis_location=None,
               min_border_left=0, min_border_right=0, min_border_top=0, min_border_bottom=0)
    f.outline_line_color = None
    f.xgrid.visible = False
    f.ygrid.visible = False
    return f


def make_title_strip():
    f = blank_fig(TOTAL_W, TITLE_H)
    left = LABEL_W
    for ci, ds in enumerate(DATASETS):
        cx = left + COL_L[ci] + FRAME_W / 2
        f.add_layout(Label(x=cx, y=TITLE_MID, text=ds, text_align="center",
                           text_baseline="middle", text_font=SERIF,
                           text_font_size="26px", text_color="black"))
        left += COL_W[ci]
    return f


def make_label_fig(ri):
    h = ROW_H[ri]
    lf = blank_fig(LABEL_W, h)
    yc = ROW_T[ri] + (h - ROW_T[ri] - ROW_B[ri]) / 2
    lf.add_layout(Label(x=16, y=yc, text=METHODS[ri], angle=math.pi / 2,
                        text_align="center", text_baseline="middle",
                        text_font=SERIF, text_font_size="19px", text_color="black"))
    lf.add_layout(Label(x=58, y=yc, text="z\u2082", text_align="center", text_baseline="middle",
                        text_font=SERIF, text_font_style="italic", text_font_size="18px",
                        text_color="black"))
    return lf


rows = [make_title_strip()]
for ri in range(3):
    items = [make_label_fig(ri)] + [make_panel(ri, ci) for ci in range(7)]
    rows.append(row(*items, spacing=0))
layout = column(*rows, spacing=0)

open("out.html", "w").write(file_html(layout, INLINE))
